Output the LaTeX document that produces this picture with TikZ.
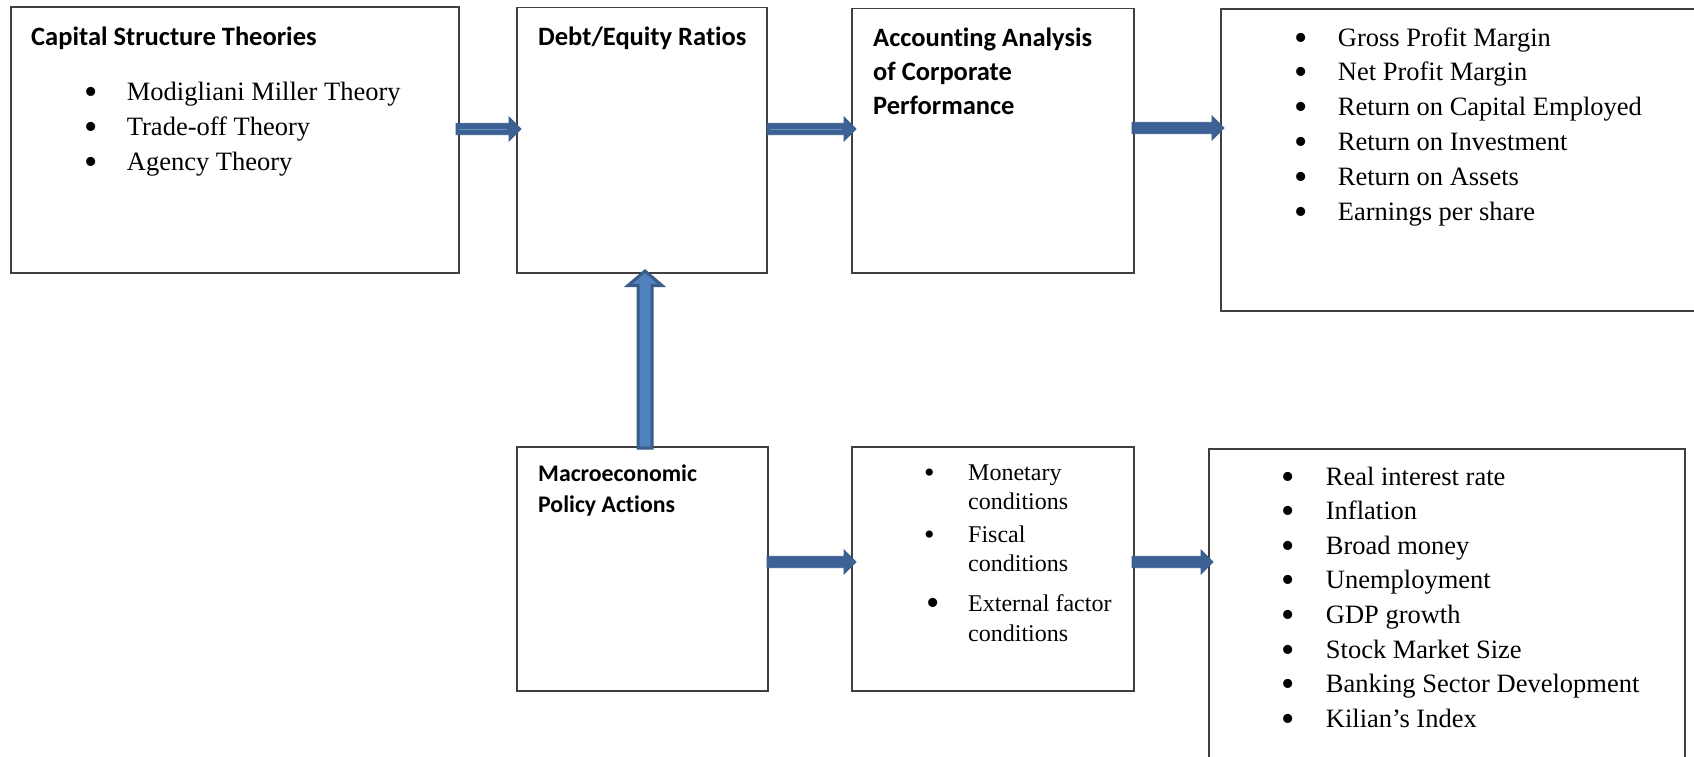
\documentclass[tikz,border=0pt]{standalone}
\usepackage{fontspec}
\setmainfont{Liberation Serif}[Ligatures={TeX,NoCommon}]
\newfontfamily\headfont{Carlito}[Ligatures={TeX,NoCommon}]
\usetikzlibrary{calc}
\definecolor{boxline}{HTML}{404040}
\definecolor{arrfill}{HTML}{3C6195}
\definecolor{arredge}{HTML}{385D8A}
\definecolor{arrlight}{HTML}{4F81BD}
\definecolor{arrstripe}{HTML}{6C8FC2}
\newcommand{\bul}{\raisebox{-4pt}{\fontsize{38}{38}\selectfont •}}
\newcommand{\bulsmall}{\raisebox{-2pt}{\fontsize{30}{30}\selectfont •}}
\newcommand{\hfat}[2]{%
  \filldraw[harr] ($(#1)+(0,-5.7)$) -- ($(#2)+(-12,-5.7)$) -- ($(#2)+(-12,-12)$) -- (#2)
    -- ($(#2)+(-12,12)$) -- ($(#2)+(-12,5.7)$) -- ($(#1)+(0,5.7)$) -- cycle;}
\begin{document}
\begin{tikzpicture}[x=1pt,y=-1pt,
  box/.style={draw=boxline,line width=1.6pt,rectangle,inner sep=0pt,outer sep=0pt,anchor=north west},
  head/.style={inner sep=0pt,anchor=base west,font=\headfont\bfseries\fontsize{26.5}{30}\selectfont},
  subhead/.style={inner sep=0pt,anchor=base west,font=\headfont\bfseries\fontsize{23.8}{28}\selectfont},
  item/.style={inner sep=0pt,anchor=base west,font=\fontsize{26.5}{30}\selectfont},
  smallitem/.style={inner sep=0pt,anchor=base west,font=\fontsize{24}{28}\selectfont},
  harr/.style={fill=arrfill,draw=arredge,line width=0.8pt,line join=miter},
  varr/.style={fill=arrlight,draw=arredge,line width=3pt,line join=miter},
  stripe/.style={draw=arrstripe,line width=0.9pt}]
\useasboundingbox (0,0) rectangle (1694,756);
\clip (0,0) rectangle (1694,756);
\fill[white] (0,0) rectangle (1694,756);

% boxes
\node[box,minimum width=448pt,minimum height=266pt] (b1) at (11,7) {};
\node[box,minimum width=250pt,minimum height=265.4pt] (b2) at (517,7.6) {};
\node[box,minimum width=282pt,minimum height=264.4pt] (b3) at (852,8.6) {};
\node[box,minimum width=500pt,minimum height=302pt] (b4) at (1221,9) {};
\node[box,minimum width=251pt,minimum height=244pt] (b5) at (517,447) {};
\node[box,minimum width=282pt,minimum height=244pt] (b6) at (852,447) {};
\node[box,minimum width=476pt,minimum height=330pt] (b7) at (1209,449) {};

% headings
\node[head] (h1) at (31,45.5) {Capital Structure Theories};
\node[head] (h2) at (538,45.5) {Debt/Equity Ratios};
\node[head] (h3a) at (873,46.8) {Accounting Analysis};
\node[head] (h3b) at (873,80.8) {of Corporate};
\node[head] (h3c) at (873,114.5) {Performance};
\node[subhead] (h5a) at (538,481.5) {Macroeconomic};
\node[subhead] (h5b) at (538,512.5) {Policy Actions};

% lists
\foreach \t [count=\i from 0] in {Modigliani Miller Theory, Trade-off Theory, Agency Theory}
  \node[item] (t\i) at (84.5,{100+35*\i}) {\makebox[42.2pt][l]{\bul}\t};
\foreach \t [count=\i from 0] in {Gross Profit Margin, Net Profit Margin, Return on Capital Employed, Return on Investment, Return on Assets, Earnings per share}
  \node[item] (p\i) at (1294,{46+34.8*\i}) {\makebox[43.7pt][l]{\bul}\t};
\foreach \t [count=\i from 0] in {Real interest rate, Inflation, Broad money, Unemployment, GDP growth, Stock Market Size, Banking Sector Development, Kilian’s Index}
  \node[item] (m\i) at (1281.5,{485+34.6*\i}) {\makebox[44.2pt][l]{\bul}\t};

\node[smallitem] (c1) at (924,480) {\makebox[44pt][l]{\bulsmall}Monetary};
\node[smallitem] (c1b) at (968,509.5) {conditions};
\node[smallitem] (c2) at (924,542.5) {\makebox[44pt][l]{\bulsmall}Fiscal};
\node[smallitem] (c2b) at (968,571) {conditions};
\node[smallitem] (c3) at (926,611) {\makebox[42pt][l]{\bul}External factor};
\node[smallitem] (c3b) at (968,641) {conditions};

% arrow end points
\coordinate (a1s) at ([shift={(-3,-11)}]b1.east);
\coordinate (a1e) at ([shift={(4,-11.3)}]b2.west);
\coordinate (a2s) at ([shift={(0,-11.3)}]b2.east);
\coordinate (a2e) at ([shift={(4,-11.8)}]b3.west);
\coordinate (a3s) at ([shift={(-2,-12.8)}]b3.east);
\coordinate (a3e) at ([shift={(3,-32)}]b4.west);
\coordinate (a5s) at ([shift={(-1,-7)}]b5.east);
\coordinate (a5e) at ([shift={(4,-7)}]b6.west);
\coordinate (a6s) at ([shift={(-2,-7)}]b6.east);
\coordinate (a6e) at ([shift={(4,-52)}]b7.west);
\coordinate (vs) at ([shift={(2.5,1)}]b5.north);
\coordinate (ve) at ([shift={(3,-4)}]b2.south);

% horizontal arrows
\hfat{a1s}{a1e}
\draw[stripe] ($(a1s)+(3,0)$) -- ($(a1e)+(-14,0)$);
\hfat{a2s}{a2e}
\draw[stripe] ($(a2s)+(3,0)$) -- ($(a2e)+(-14,0)$);
\hfat{a3s}{a3e}
\hfat{a5s}{a5e}
\hfat{a6s}{a6e}

% vertical arrow
\filldraw[varr] ($(vs)+(-7,0)$) -- ($(ve)+(-7,16.5)$) -- ($(ve)+(-17,16.5)$) -- ($(ve)+(0,2)$)
  -- ($(ve)+(17,16.5)$) -- ($(ve)+(7,16.5)$) -- ($(vs)+(7,0)$) -- cycle;
\end{tikzpicture}
\end{document}
